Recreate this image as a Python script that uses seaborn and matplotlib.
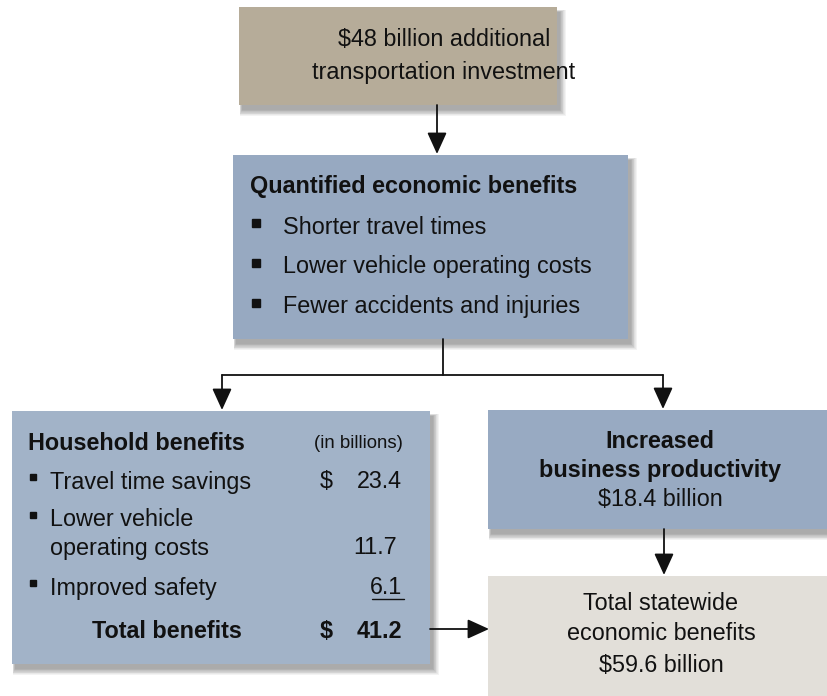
import matplotlib
matplotlib.use("Agg")
import matplotlib.pyplot as plt
from matplotlib.patches import Rectangle
import seaborn as sns

# ---- data ----
top_lines = ["$48 billion additional", "transportation investment"]
quant_title = "Quantified economic benefits"
quant_items = ["Shorter travel times", "Lower vehicle operating costs", "Fewer accidents and injuries"]
house_title = "Household benefits"
house_unit = "(in billions)"
house_items = ["Travel time savings", "Lower vehicle\noperating costs", "Improved safety"]
house_values = ["23.4", "11.7", "6.1"]
house_total_label = "Total benefits"
house_total = "41.2"
biz_lines = ["Increased", "business productivity", "$18.4 billion"]
total_lines = ["Total statewide", "economic benefits", "$59.6 billion"]

sns.set_theme(style="white")
plt.rcParams['font.family'] = ['Liberation Sans', 'DejaVu Sans']

TXT = "#111111"
FS = 16.8

fig = plt.figure(figsize=(8.28, 6.96), dpi=100)
ax = fig.add_axes([0, 0, 1, 1])
ax.set_xlim(0, 828)
ax.set_ylim(696, 0)
ax.axis("off")


def box(x0, y0, x1, y1, color):
    w, h = x1 - x0, y1 - y0
    for k in range(8, -1, -1):
        ax.add_patch(Rectangle((x0 + 3 - k * 0.3, y0 + 5 - k * 0.3), w + k, h + k,
                               facecolor="#404040", edgecolor="none", alpha=0.06, zorder=1))
    ax.add_patch(Rectangle((x0, y0), w, h, facecolor=color, edgecolor="none", zorder=2))


def arrow(x0, y0, x1, y1):
    ax.annotate("", xy=(x1, y1), xytext=(x0, y0), zorder=5,
                arrowprops=dict(arrowstyle="-|>,head_length=1.1,head_width=0.5",
                                color="#111111", lw=1.3, shrinkA=0, shrinkB=0))


# boxes
box(239, 7, 557, 105, "#b6ac99")
box(233, 155, 628, 339, "#97a9c1")
box(12, 411, 430, 664, "#a2b3c8")
box(488, 410, 840, 529, "#98aac2")
box(488, 576, 840, 710, "#e2dfd9")

# connectors
arrow(437, 105, 437, 154)
ax.plot([443, 443], [339, 375], color="#111111", lw=1.3, zorder=4)
ax.plot([222, 663], [375, 375], color="#111111", lw=1.3, zorder=4)
arrow(222, 375, 222, 410)
arrow(663, 375, 663, 409)
arrow(664, 529, 664, 575)
arrow(430, 629, 489, 629)

# top box
for i, t in enumerate(top_lines):
    ax.text(444, 40 + i * 32, t, ha="center", va="center", fontsize=FS, color=TXT, zorder=6)

# middle box
ax.text(250, 187, quant_title, ha="left", va="center", fontsize=FS, fontweight="bold", color=TXT, zorder=6)
for i, t in enumerate(quant_items):
    y = 227 + i * 40
    ax.plot([256], [y - 4], marker="s", markersize=5.2, color=TXT, zorder=6)
    ax.text(283, y, t, ha="left", va="center", fontsize=FS, color=TXT, zorder=6)

# household box
ax.text(28, 443, house_title, ha="left", va="center", fontsize=FS, fontweight="bold", color=TXT, zorder=6)
ax.text(403, 443, house_unit, ha="right", va="center", fontsize=13.4, color=TXT, zorder=6)
item_y = [482, 520, 588]
val_y = [482, 548, 588]
val_x = [402, 397, 402]
for i, t in enumerate(house_items):
    y = item_y[i]
    ax.plot([33], [y - 5], marker="s", markersize=5.0, color=TXT, zorder=6)
    for j, part in enumerate(t.split("\n")):
        ax.text(50, y + j * 28, part, ha="left", va="center", fontsize=FS, color=TXT, zorder=6)
    ax.text(val_x[i], val_y[i], house_values[i], ha="right", va="center", fontsize=FS, color=TXT, zorder=6)
ax.text(326, 482, "$", ha="center", va="center", fontsize=FS, color=TXT, zorder=6)
ax.plot([372, 404], [599, 599], color=TXT, lw=1.0, zorder=6)
ax.text(167, 632, house_total_label, ha="center", va="center", fontsize=FS, fontweight="bold", color=TXT, zorder=6)
ax.text(326, 632, "$", ha="center", va="center", fontsize=FS, fontweight="bold", color=TXT, zorder=6)
ax.text(402, 632, house_total, ha="right", va="center", fontsize=FS, fontweight="bold", color=TXT, zorder=6)

# business box
for i, t in enumerate(biz_lines):
    ax.text(660, [441, 471, 500][i], t, ha="center", va="center", fontsize=FS,
            fontweight="bold" if i < 2 else "normal", color=TXT, zorder=6)

# total box
for i, t in enumerate(total_lines):
    ax.text(661, [604, 633, 666][i], t, ha="center", va="center", fontsize=FS, color=TXT, zorder=6)

fig.savefig("out.png", dpi=100)
